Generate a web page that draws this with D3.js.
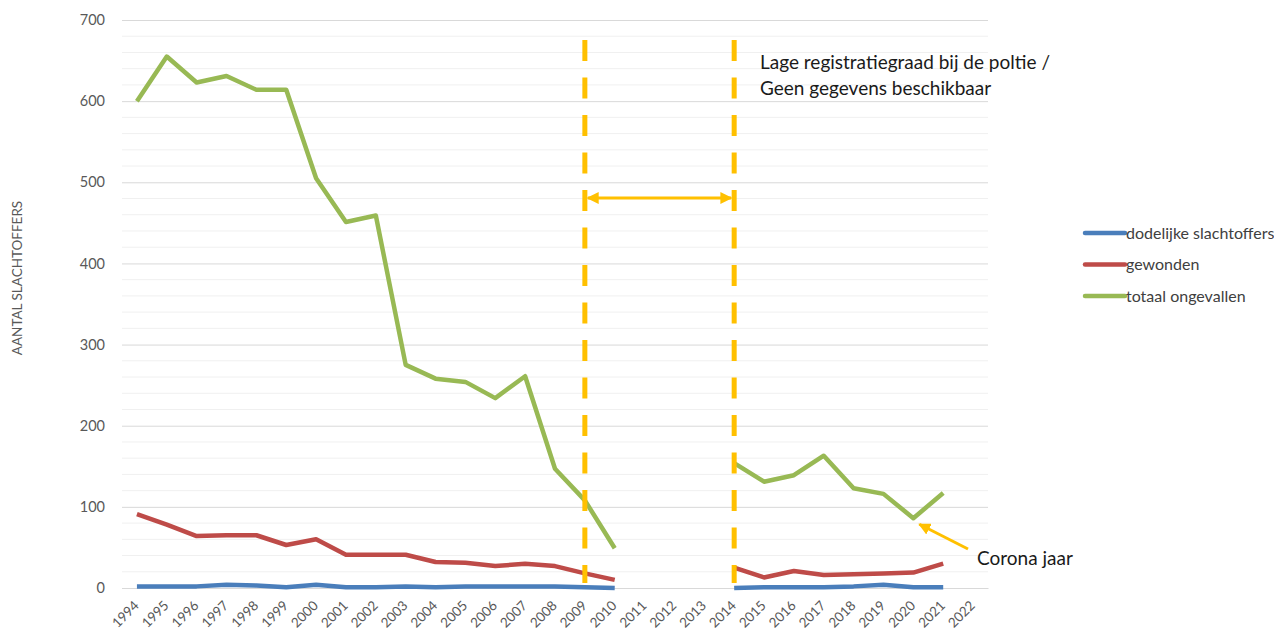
<!DOCTYPE html>
<html>
<head>
<meta charset="utf-8">
<script src="https://cdn.jsdelivr.net/npm/d3@7"></script>
<style>
  html, body { margin: 0; padding: 0; background: #ffffff; }
  svg { display: block; font-family: Lato, "Open Sans", sans-serif; }
</style>
</head>
<body>
<svg id="chart" width="1274" height="635"></svg>
<script>
// Years on the category axis
const years = [1994,1995,1996,1997,1998,1999,2000,2001,2002,2003,2004,2005,2006,2007,2008,
               2009,2010,2011,2012,2013,2014,2015,2016,2017,2018,2019,2020,2021,2022];

// Series (null = no data)
const dodelijk = [2,2,2,4,3,1,4,1,1,2,1,2,2,2,2,1,0,null,null,null,0,1,1,1,2,4,1,1,null];
const gewonden = [91,78,64,65,65,53,60,41,41,41,32,31,27,30,27,18,10,null,null,null,25,13,21,16,17,18,19,30,null];
const totaal   = [600,655,623,631,614,614,505,451,459,275,258,254,234,261,147,108,49,null,null,null,154,131,139,163,123,116,86,117,null];

const yTicks = [0,100,200,300,400,500,600,700];
const seriesNames = ["dodelijke slachtoffers","gewonden","totaal ongevallen"];
const seriesColors = ["#4a7ebb","#be4b48","#98b954"];

const svg = d3.select("#chart");
const plot = {left: 122, right: 988, top: 20, bottom: 588};

const x = d3.scalePoint().domain(years).range([plot.left, plot.right]).padding(0.5);
const y = d3.scaleLinear().domain([0, 700]).range([plot.bottom, plot.top]);

// minor gridlines every 20
const minor = d3.range(0, 701, 20).filter(v => v % 100 !== 0);
svg.append("g").selectAll("line").data(minor).join("line")
  .attr("x1", plot.left).attr("x2", plot.right)
  .attr("y1", d => y(d)).attr("y2", d => y(d))
  .attr("stroke", "#f0f0f0").attr("stroke-width", 1);

// major gridlines + y labels
const yAxis = d3.axisLeft(y).tickValues(yTicks).tickSize(-(plot.right - plot.left)).tickPadding(17);
const gy = svg.append("g").attr("transform", `translate(${plot.left},0)`).call(yAxis);
gy.select(".domain").remove();
gy.selectAll(".tick line").attr("stroke", "#d9d9d9").attr("stroke-width", 1);
gy.selectAll(".tick text").attr("fill", "#595959").style("font-size", "14.5px").style("font-family", "Lato, sans-serif");

// x axis labels rotated
const xAxis = d3.axisBottom(x).tickSize(0).tickPadding(0);
const gx = svg.append("g").attr("transform", `translate(0,${plot.bottom})`).call(xAxis);
gx.select(".domain").attr("stroke", "#d9d9d9");
gx.selectAll(".tick text")
  .attr("fill", "#595959").style("font-size", "13.5px").style("font-family", "Lato, sans-serif")
  .attr("text-anchor", "end")
  .attr("transform", "translate(-1,15) rotate(-45)")
  .attr("dy", "0.35em").attr("y", 0);

// y axis title
svg.append("text")
  .attr("transform", `translate(22,278) rotate(-90)`)
  .attr("text-anchor", "middle")
  .attr("fill", "#595959").style("font-size", "13.5px")
  .text("AANTAL SLACHTOFFERS");

// series lines
const line = d3.line().defined(d => d.v !== null).x(d => x(d.year)).y(d => y(d.v));
[dodelijk, gewonden, totaal].forEach((vals, i) => {
  const pts = years.map((yr, j) => ({year: yr, v: vals[j]}));
  svg.append("path").datum(pts)
    .attr("fill", "none").attr("stroke", seriesColors[i])
    .attr("stroke-width", 4.5).attr("stroke-linejoin", "round")
    .attr("d", line);
});

// dashed markers for the period with missing registration
const gold = "#ffc000";
[2009, 2014].forEach(yr => {
  svg.append("line")
    .attr("x1", x(yr)).attr("x2", x(yr))
    .attr("y1", 40).attr("y2", 583)
    .attr("stroke", gold).attr("stroke-width", 5)
    .attr("stroke-dasharray", "21 16.5");
});

// double-headed arrow between the markers
const defs = svg.append("defs");
defs.append("marker").attr("id", "headEnd").attr("viewBox", "0 0 10 10")
  .attr("refX", 9).attr("refY", 5).attr("markerWidth", 4).attr("markerHeight", 4)
  .attr("orient", "auto")
  .append("path").attr("d", "M0,0 L10,5 L0,10 Z").attr("fill", gold);
defs.append("marker").attr("id", "headStart").attr("viewBox", "0 0 10 10")
  .attr("refX", 1).attr("refY", 5).attr("markerWidth", 4).attr("markerHeight", 4)
  .attr("orient", "auto")
  .append("path").attr("d", "M10,0 L0,5 L10,10 Z").attr("fill", gold);

svg.append("line")
  .attr("x1", x(2009) + 3).attr("x2", x(2014) - 3)
  .attr("y1", 198).attr("y2", 198)
  .attr("stroke", gold).attr("stroke-width", 3)
  .attr("marker-start", "url(#headStart)").attr("marker-end", "url(#headEnd)");

// annotation text
const note = svg.append("text").attr("fill", "#1a1a1a").style("font-size", "19px");
note.append("tspan").attr("x", 760).attr("y", 69).text("Lage registratiegraad bij de poltie /");
note.append("tspan").attr("x", 760).attr("y", 95).text("Geen gegevens beschikbaar");

// corona note with arrow to the 2020 point
svg.append("line")
  .attr("x1", 968).attr("y1", 549)
  .attr("x2", x(2020) + 6).attr("y2", y(86) + 6)
  .attr("stroke", gold).attr("stroke-width", 3)
  .attr("marker-end", "url(#headEnd)");
svg.append("text").attr("x", 977).attr("y", 565)
  .attr("fill", "#1a1a1a").style("font-size", "19px").text("Corona jaar");

// legend
const legend = svg.append("g");
seriesNames.forEach((name, i) => {
  const ly = 233 + i * 31.5;
  legend.append("line").attr("x1", 1085).attr("x2", 1125).attr("y1", ly).attr("y2", ly)
    .attr("stroke", seriesColors[i]).attr("stroke-width", 4.5).attr("stroke-linecap", "round");
  legend.append("text").attr("x", 1126).attr("y", ly).attr("dy", "0.35em")
    .attr("fill", "#404040").style("font-size", "16px").text(name);
});
</script>
</body>
</html>
